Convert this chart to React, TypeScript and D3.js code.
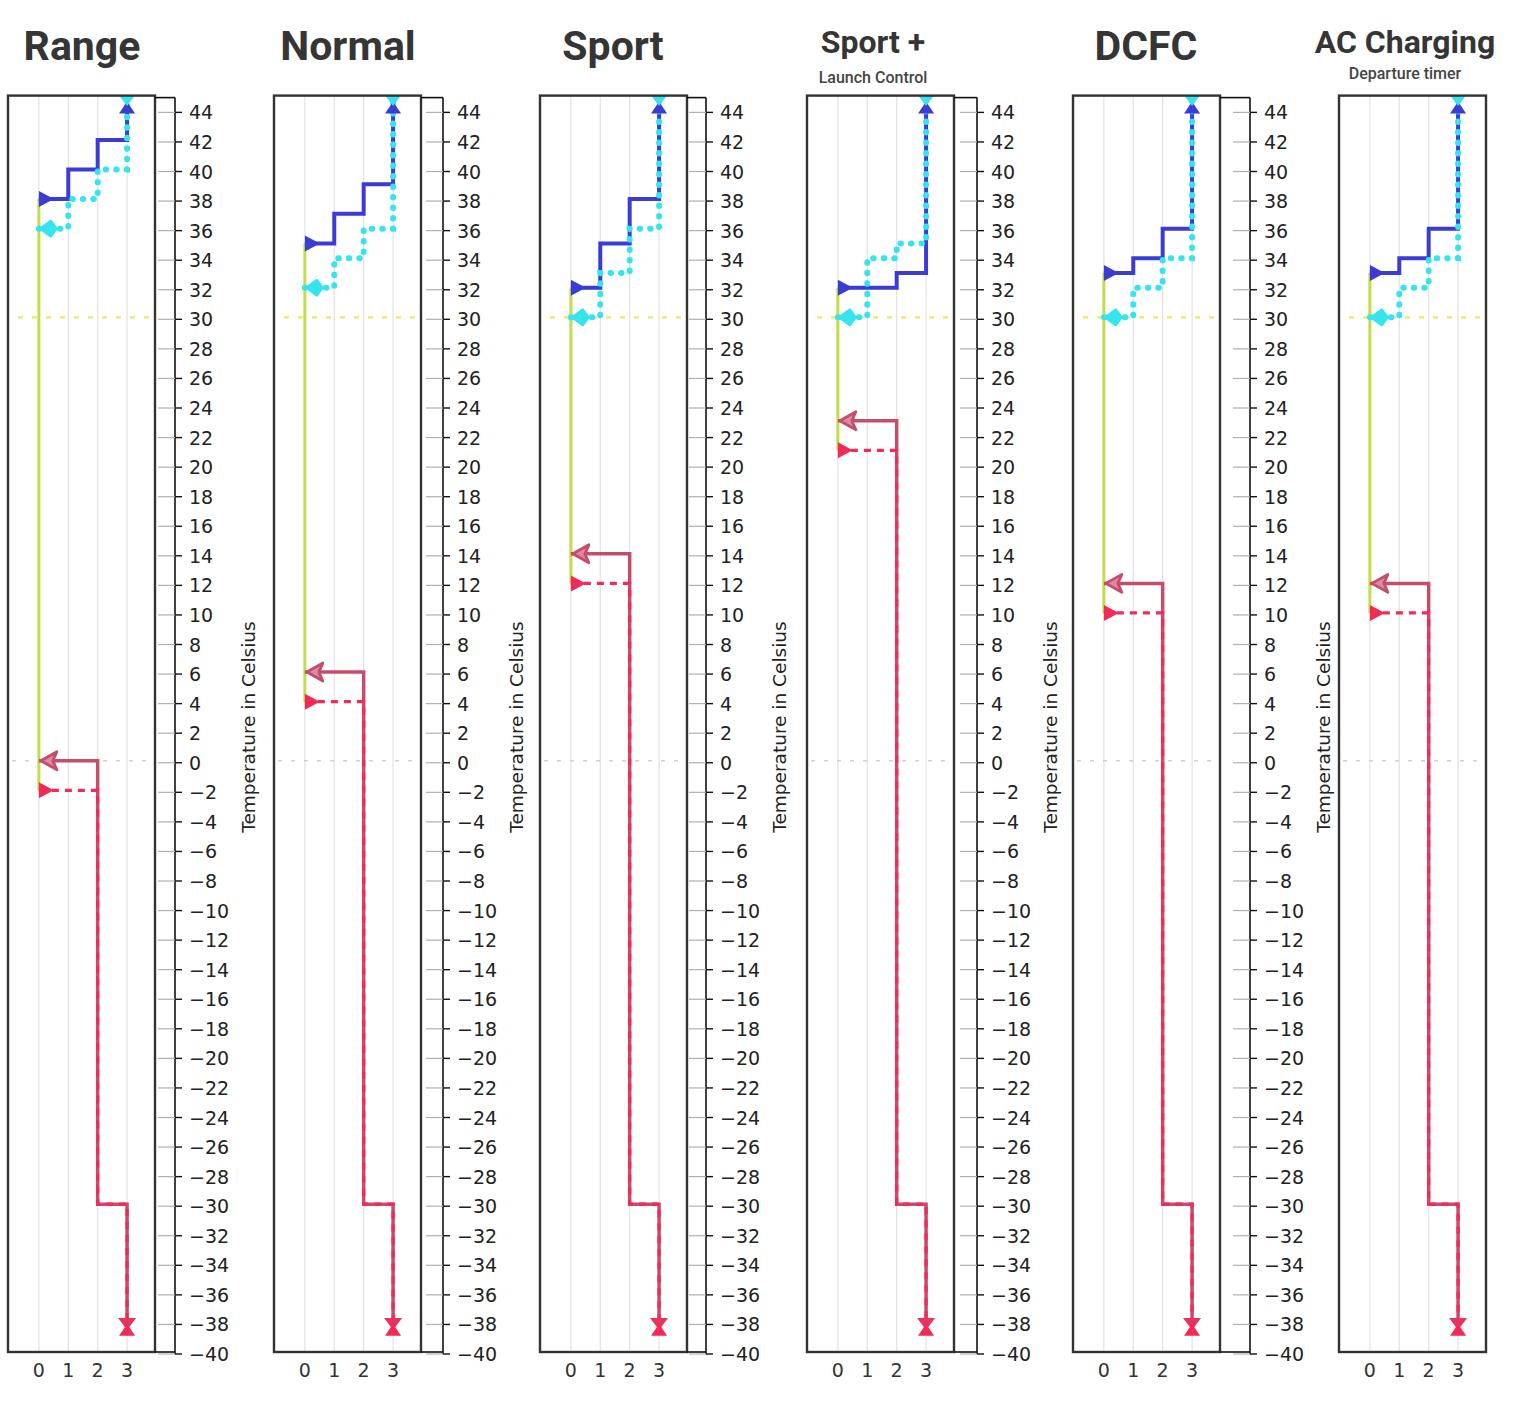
import React from "react";
import * as d3 from "d3";

// drive modes, one panel each
const modes = ["Range", "Normal", "Sport", "Sport +", "DCFC", "AC Charging"];
const subtitles = ["", "", "", "Launch Control", "", "Departure timer"];

// thermal-management levels on the x axis
const levels = [0, 1, 2, 3];

// heating thresholds (°C) where the level steps up, at levels 0, 1, 2
const blueSteps = [
  [38, 40, 42],
  [35, 37, 39],
  [32, 35, 38],
  [32, 32, 33],
  [33, 34, 36],
  [33, 34, 36],
];
const cyanSteps = [
  [36, 38, 40],
  [32, 34, 36],
  [30, 33, 36],
  [30, 34, 35],
  [30, 32, 34],
  [30, 32, 34],
];
const blueTop = 44.2;
const cyanTop = 44.7;

// cold-side thresholds
const redStart = [0, 6, 14, 23, 12, 12];
const redDashStart = [-2, 4, 12, 21, 10, 10];
const lowStep = -30;
const redEnd = -38.1;
const redDashEnd = -38.5;

// reference lines
const warmLine = 30;
const zeroLine = 0;

const tempTicks = d3.range(-40, 45, 2);

// layout
const W = 1526;
const H = 1410;
const panelLeft = [8, 274, 540, 807, 1073, 1339];
const panelW = 147;
const axisX = [175, 443, 706, 977, 1250, null];
const titleX = [82, 348, 613, 873, 1146, 1405];
const titleSize = [41, 41, 41, 32, 41, 32];
const titleY = [60, 60, 60, 53, 60, 53];
const subY = [0, 0, 0, 83, 0, 79];

const C = {
  blue: "#3b3bd6",
  cyan: "#36e4ee",
  mauve: "#c64c6c",
  red: "#f22a55",
  green: "#c3dc4a",
  yellow: "#eeea5a",
  grid: "#e2e2e2",
  frame: "#333",
  text: "#222",
};

const y = d3.scaleLinear().domain([-40, 45]).range([1352, 95.6]);
// the side axis sits a couple of pixels lower than the plot box
const yAxis = d3.scaleLinear().domain([-40, 45]).range([1354, 97.6]);

const tickFmt = d3.format("d");

type P = { x: number; v: number };

function Panel({ i }: { i: number }) {
  const left = panelLeft[i];
  const right = left + panelW;
  const x = d3.scaleLinear().domain([-1.05, 3.95]).range([left, right]);
  const line = d3
    .line<P>()
    .x((d) => x(d.x))
    .y((d) => y(d.v))
    .curve(d3.curveStepAfter);

  const b = blueSteps[i];
  const c = cyanSteps[i];
  const bluePts: P[] = [
    { x: 0, v: b[0] },
    { x: 1, v: b[1] },
    { x: 2, v: b[2] },
    { x: 3, v: blueTop },
  ];
  const cyanPts: P[] = [
    { x: 0, v: c[0] },
    { x: 1, v: c[1] },
    { x: 2, v: c[2] },
    { x: 3, v: cyanTop },
  ];
  const redPts: P[] = [
    { x: 0, v: redStart[i] },
    { x: 2, v: lowStep },
    { x: 3, v: redEnd },
  ];
  const redDashPts: P[] = [
    { x: 0, v: redDashStart[i] },
    { x: 2, v: lowStep },
    { x: 3, v: redDashEnd },
  ];

  const x0 = x(0);
  const x3 = x(3);
  const top = y(45);
  const bottom = y(-40);

  // start markers sit just right of the level-0 gridline
  const triRight = (yy: number) => `${x0},${yy - 8} ${x0 + 15},${yy} ${x0},${yy + 8}`;
  const arrowLeft = (yy: number) =>
    `${x0 + 2},${yy} ${x0 + 18},${yy - 9} ${x0 + 14},${yy} ${x0 + 18},${yy + 9}`;
  const diamondLeft = (yy: number) =>
    `${x0 + 1},${yy} ${x0 + 12},${yy - 8} ${x0 + 18},${yy} ${x0 + 12},${yy + 8}`;
  const triDown = (yy: number) => `${x3 - 9},${yy - 6} ${x3 + 9},${yy - 6} ${x3},${yy + 6}`;
  const triUp = (yy: number) => `${x3 - 8},${yy + 6} ${x3 + 8},${yy + 6} ${x3},${yy - 6}`;

  const ax = axisX[i];
  const clipId = `clip-${i}`;

  return (
    <g>
      <defs>
        <clipPath id={clipId}>
          <rect x={left} y={top} width={panelW} height={bottom - top} />
        </clipPath>
      </defs>

      {/* title */}
      <text
        x={titleX[i]}
        y={titleY[i]}
        textAnchor="middle"
        fontFamily="Roboto, 'Noto Sans', sans-serif"
        fontWeight={700}
        fontSize={titleSize[i]}
        fill="#353535"
      >
        {modes[i]}
      </text>
      {subtitles[i] && (
        <text
          x={titleX[i]}
          y={subY[i]}
          textAnchor="middle"
          fontFamily="Roboto, 'Noto Sans', sans-serif"
          fontWeight={500}
          fontSize={16}
          fill="#444"
        >
          {subtitles[i]}
        </text>
      )}

      <rect x={left} y={top} width={panelW} height={bottom - top} fill="#fff" />

      <g clipPath={`url(#${clipId})`}>
        {levels.map((l) => (
          <line key={l} x1={x(l)} x2={x(l)} y1={top} y2={bottom} stroke={C.grid} strokeWidth={1.2} />
        ))}
        <line
          x1={left + 4}
          x2={right - 4}
          y1={y(zeroLine)}
          y2={y(zeroLine)}
          stroke="#cfcfcf"
          strokeWidth={1.5}
          strokeDasharray="4 9"
        />
        <line
          x1={left + 10}
          x2={right - 4}
          y1={y(warmLine)}
          y2={y(warmLine)}
          stroke={C.yellow}
          strokeWidth={2.2}
          strokeDasharray="5 9"
        />
        <line
          x1={x0}
          x2={x0}
          y1={y(b[0])}
          y2={y(redDashStart[i])}
          stroke={C.green}
          strokeWidth={3}
        />

        <path d={line(redPts) ?? ""} fill="none" stroke={C.mauve} strokeWidth={3.5} />
        <path
          d={line(redDashPts) ?? ""}
          fill="none"
          stroke={C.red}
          strokeWidth={3.2}
          strokeDasharray="7 6"
        />
        <path d={line(bluePts) ?? ""} fill="none" stroke={C.blue} strokeWidth={4} />
        <path
          d={line(cyanPts) ?? ""}
          fill="none"
          stroke={C.cyan}
          strokeWidth={6}
          strokeDasharray="0.5 10"
          strokeLinecap="round"
        />

        {/* start markers */}
        <polygon points={triRight(y(b[0]))} fill={C.blue} />
        <polygon points={diamondLeft(y(c[0]))} fill={C.cyan} stroke={C.cyan} strokeWidth={2} strokeLinejoin="round" />
        <polygon
          points={arrowLeft(y(redStart[i]))}
          fill="#dc8aa0"
          stroke={C.mauve}
          strokeWidth={2.8}
          strokeLinejoin="round"
        />
        <polygon points={triRight(y(redDashStart[i]))} fill={C.red} />

        {/* end markers */}
        <polygon points={triUp(y(blueTop))} fill={C.blue} />
        <polygon points={triDown(y(cyanTop))} fill={C.cyan} />
        <polygon points={triDown(y(redEnd))} fill="#e6345c" />
        <polygon points={triUp(y(redDashEnd))} fill={C.red} />
      </g>

      <rect
        x={left}
        y={top}
        width={panelW}
        height={bottom - top}
        fill="none"
        stroke={C.frame}
        strokeWidth={2.4}
      />

      {levels.map((l) => (
        <text
          key={l}
          x={x(l)}
          y={1370}
          textAnchor="middle"
          dominantBaseline="central"
          fontFamily="'DejaVu Sans', sans-serif"
          fontSize={19}
          fill="#333"
        >
          {l}
        </text>
      ))}

      {ax !== null && (
        <g>
          <line x1={right} x2={ax} y1={yAxis(45)} y2={yAxis(45)} stroke="#111" strokeWidth={1.6} />
          <line x1={right} x2={ax} y1={yAxis(-40) - 2} y2={yAxis(-40) - 2} stroke="#111" strokeWidth={1.6} />
          <line x1={ax} x2={ax} y1={yAxis(45)} y2={yAxis(-40)} stroke="#111" strokeWidth={1.6} />
          {tempTicks.map((t) => (
            <g key={t}>
              <line x1={ax - 17} x2={ax} y1={yAxis(t)} y2={yAxis(t)} stroke="#b0b0b0" strokeWidth={1.2} />
              <line x1={ax} x2={ax + 7} y1={yAxis(t)} y2={yAxis(t)} stroke="#111" strokeWidth={1.4} />
              <text
                x={ax + 14}
                y={yAxis(t)}
                dominantBaseline="central"
                fontFamily="'DejaVu Sans', sans-serif"
                fontSize={19}
                fill={C.text}
              >
                {tickFmt(t)}
              </text>
            </g>
          ))}
          <text
            transform={`translate(${ax + 73},727) rotate(-90)`}
            textAnchor="middle"
            dominantBaseline="central"
            fontFamily="'DejaVu Sans', sans-serif"
            fontSize={18.5}
            fill={C.text}
          >
            Temperature in Celsius
          </text>
        </g>
      )}
    </g>
  );
}

export default function App() {
  return (
    <svg
      width={W}
      height={H}
      viewBox={`0 0 ${W} ${H}`}
      style={{ position: "absolute", left: 0, top: 0, background: "#fff" }}
    >
      <rect width={W} height={H} fill="#fff" />
      {modes.map((m, i) => (
        <Panel key={m} i={i} />
      ))}
    </svg>
  );
}
